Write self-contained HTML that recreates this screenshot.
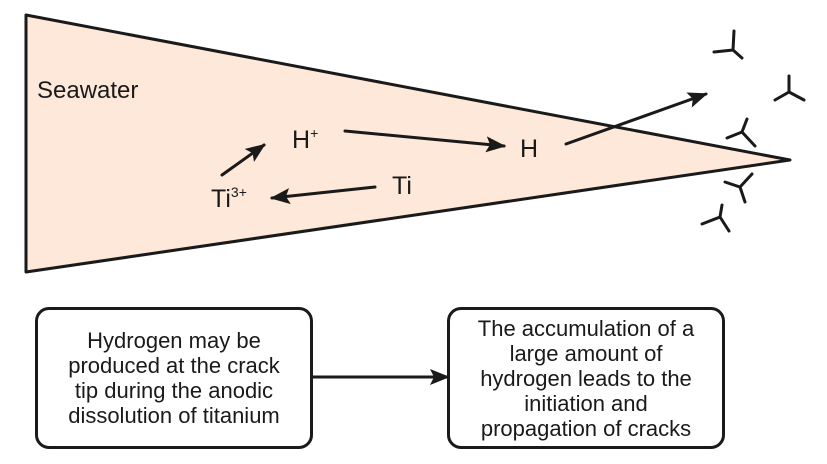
<!DOCTYPE html>
<html><head><style>
body{margin:0;width:827px;height:464px;background:#fff;overflow:hidden;font-family:"Liberation Sans",Arial,sans-serif}
.box{position:absolute;border:3px solid #1a1a1a;border-radius:14px;background:#fff;display:flex;align-items:center;justify-content:center;text-align:center;font-size:22px;line-height:25px;color:#1a1a1a;box-sizing:border-box}
</style></head><body>
<svg width="827" height="464" style="position:absolute;left:0;top:0">
<defs>
<marker id="b" markerWidth="20" markerHeight="16" refX="18" refY="8" orient="auto" markerUnits="userSpaceOnUse"><path d="M0,0 L20,8 L0,16 L4,8 z" fill="#1a1a1a"/></marker></defs>
<polygon points="26,15 790,160 26,272" fill="#fde8da" stroke="#1a1a1a" stroke-width="3" stroke-linejoin="round"/>
<g stroke="#1a1a1a" stroke-width="3" fill="none" stroke-linecap="round">
<line x1="222" y1="175" x2="264" y2="145" marker-end="url(#b)"/>
<line x1="345" y1="131" x2="504" y2="146" marker-end="url(#b)"/>
<line x1="375" y1="187" x2="272" y2="198" marker-end="url(#b)"/>
<line x1="566" y1="144" x2="706" y2="94" marker-end="url(#b)"/>
<line x1="313" y1="377" x2="448" y2="377" marker-end="url(#b)"/>
<path d="M734,31 L733,50 L714,52 M733,50 L742,58"/>
<path d="M789,76 L789,92 L775,100 M789,92 L804,100"/>
<path d="M747,119 L742,132 L727,138 M742,132 L755,146"/>
<path d="M752,174 L740,187 L725,182 M740,187 L745,202"/>
<path d="M722,205 L720,217 L702,224 M720,217 L729,231"/>
</g>
<g font-family="Liberation Sans,Arial,sans-serif" fill="#1a1a1a" font-size="25">
<text x="37" y="98" font-size="24">Seawater</text>
<text x="292" y="148">H<tspan font-size="14" dy="-10">+</tspan></text>
<text x="520" y="157">H</text>
<text x="392" y="194">Ti</text>
<text x="211" y="207">Ti<tspan font-size="14" dy="-10">3+</tspan></text>
</g>
</svg>
<div class="box" style="left:35px;top:307px;width:278px;height:142px">Hydrogen may be<br>produced at the crack<br>tip during the anodic<br>dissolution of titanium</div>
<div class="box" style="left:447px;top:307px;width:278px;height:142px">The accumulation of a<br>large amount of<br>hydrogen leads to the<br>initiation and<br>propagation of cracks</div>
</body></html>
